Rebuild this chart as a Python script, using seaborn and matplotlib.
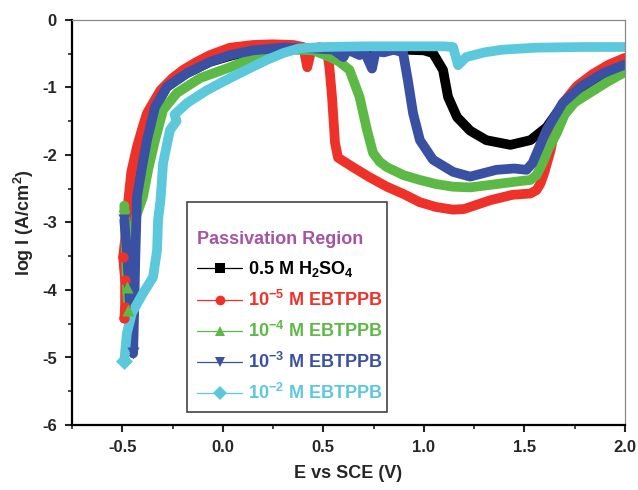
import numpy as np
import pandas as pd
import matplotlib
matplotlib.use("Agg")
import matplotlib.pyplot as plt
from matplotlib.lines import Line2D
from matplotlib.patches import Rectangle
import seaborn as sns

# Potentiodynamic polarization curves: E (V vs SCE) and log I (A/cm^2)
e_h2so4 = [-0.427, -0.40, -0.377, -0.337, -0.278, -0.18, -0.064, 0.05, 0.20, 0.40, 0.70, 0.90,
           1.00, 1.045, 1.095, 1.12, 1.165, 1.23, 1.31, 1.43, 1.53, 1.61, 1.66, 1.72, 1.80, 1.90, 2.00]
i_h2so4 = [-2.62, -2.15, -1.78, -1.29, -0.99, -0.79, -0.62, -0.52, -0.45, -0.42, -0.43, -0.44,
           -0.45, -0.49, -0.74, -1.14, -1.44, -1.64, -1.78, -1.85, -1.78, -1.59, -1.38, -1.15, -0.98, -0.80, -0.66]

e_1e5 = [-0.49, -0.486, -0.486, -0.496, -0.48, -0.47, -0.455, -0.427, -0.40, -0.377, -0.31, -0.25, -0.198,
         -0.13, -0.064, 0.036, 0.15, 0.25, 0.35, 0.40, 0.42, 0.44, 0.48, 0.518, 0.53, 0.543, 0.558, 0.573,
         0.647, 0.73, 0.816, 0.90, 0.98, 1.06, 1.145, 1.20, 1.26, 1.33, 1.44, 1.53, 1.56, 1.58, 1.60, 1.63,
         1.66, 1.70, 1.76, 1.84, 1.92, 2.00]
i_1e5 = [-4.42, -4.25, -3.85, -3.51, -3.1, -2.67, -2.25, -1.88, -1.6, -1.38, -1.04, -0.86, -0.74,
         -0.62, -0.52, -0.41, -0.37, -0.36, -0.37, -0.40, -0.70, -0.45, -0.40, -0.45, -0.70, -1.14, -1.82, -2.04,
         -2.18, -2.33, -2.47, -2.58, -2.70, -2.77, -2.81, -2.80, -2.74, -2.67, -2.59, -2.57, -2.52, -2.42, -2.25, -1.93,
         -1.50, -1.20, -0.98, -0.80, -0.66, -0.56]

e_1e4 = [-0.49, -0.482, -0.477, -0.47, -0.462, -0.45, -0.43, -0.397, -0.37, -0.337, -0.297, -0.228, -0.113,
         0.036, 0.135, 0.25, 0.35, 0.45, 0.533, 0.58, 0.63, 0.68, 0.717, 0.747, 0.78, 0.816, 0.90, 0.98,
         1.06, 1.145, 1.23, 1.31, 1.39, 1.47, 1.53, 1.56, 1.59, 1.62, 1.66, 1.70, 1.75, 1.83, 1.91, 2.00]
i_1e4 = [-2.75, -3.4, -3.95, -4.3, -3.7, -3.2, -2.9, -2.62, -2.2, -1.78, -1.33, -1.08, -0.86,
         -0.70, -0.58, -0.48, -0.44, -0.45, -0.55, -0.62, -0.74, -1.14, -1.63, -1.97, -2.10, -2.18, -2.30, -2.37,
         -2.43, -2.47, -2.48, -2.45, -2.42, -2.39, -2.37, -2.30, -2.12, -1.90, -1.68, -1.40, -1.22, -1.07, -0.92, -0.77]

e_1e3 = [-0.49, -0.475, -0.462, -0.446, -0.44, -0.435, -0.43, -0.427, -0.40, -0.377, -0.337, -0.278, -0.18,
         -0.064, 0.036, 0.15, 0.30, 0.45, 0.55, 0.60, 0.62, 0.68, 0.70, 0.742, 0.76, 0.80, 0.85, 0.896,
         0.92, 0.946, 0.98, 1.045, 1.145, 1.23, 1.36, 1.45, 1.51, 1.54, 1.61, 1.69, 1.78, 1.89, 2.00]
i_1e3 = [-2.97, -3.5, -4.2, -4.94, -4.2, -3.5, -2.97, -2.62, -2.15, -1.78, -1.29, -0.99, -0.79,
         -0.62, -0.52, -0.45, -0.41, -0.42, -0.44, -0.55, -0.44, -0.52, -0.44, -0.72, -0.46, -0.48, -0.44, -0.48,
         -0.89, -1.38, -1.78, -2.07, -2.25, -2.32, -2.22, -2.20, -2.22, -2.12, -1.63, -1.23, -0.99, -0.79, -0.66]

e_1e2 = [-0.49, -0.477, -0.452, -0.397, -0.347, -0.327, -0.322, -0.31, -0.297, -0.263, -0.23, -0.24,
         -0.178, -0.079, 0.036, 0.13, 0.22, 0.30, 0.38, 0.50, 0.70, 0.90, 1.10, 1.145, 1.17, 1.21, 1.30,
         1.39, 1.56, 1.80, 2.00]
i_1e2 = [-5.05, -4.64, -4.34, -4.05, -3.81, -3.41, -2.96, -2.67, -2.12, -1.63, -1.50, -1.40,
         -1.23, -1.04, -0.86, -0.72, -0.59, -0.49, -0.42, -0.40, -0.39, -0.39, -0.39, -0.40, -0.67, -0.55, -0.48,
         -0.44, -0.41, -0.40, -0.40]

labels = [r"0.5 M H$_2$SO$_4$", r"10$^{-5}$ M EBTPPB", r"10$^{-4}$ M EBTPPB",
          r"10$^{-3}$ M EBTPPB", r"10$^{-2}$ M EBTPPB"]
colors = ["#000000", "#EE3129", "#5DB946", "#3A51A3", "#5BC8DC"]
markers = ["s", "o", "^", "v", "D"]
x_ticks = [-0.5, 0.0, 0.5, 1.0, 1.5, 2.0]
x_ticklabels = ["-0.5", "0.0", "0.5", "1.0", "1.5", "2.0"]
y_ticks = [0, -1, -2, -3, -4, -5, -6]
y_ticklabels = ["0", "-1", "-2", "-3", "-4", "-5", "-6"]

series = [(e_h2so4, i_h2so4), (e_1e5, i_1e5), (e_1e4, i_1e4), (e_1e3, i_1e3), (e_1e2, i_1e2)]
frames = []
for lab, (e, i) in zip(labels, series):
    frames.append(pd.DataFrame({"E": e, "logI": i, "sample": lab, "idx": np.arange(len(e))}))
df = pd.concat(frames, ignore_index=True)

sns.set_theme(style="ticks")
plt.rcParams["font.family"] = ["Liberation Sans", "DejaVu Sans"]
plt.rcParams["font.weight"] = "bold"
plt.rcParams["axes.unicode_minus"] = False
plt.rcParams["mathtext.fontset"] = "custom"
plt.rcParams["mathtext.rm"] = "Liberation Sans:bold"
plt.rcParams["mathtext.bf"] = "Liberation Sans:bold"
plt.rcParams["mathtext.it"] = "Liberation Sans:bold"
plt.rcParams["mathtext.default"] = "bf"

fig = plt.figure(figsize=(6.38, 4.90), dpi=100)
ax = fig.add_axes([72 / 638, 1 - 425 / 490, 553 / 638, 405 / 490])

sns.lineplot(data=df, x="E", y="logI", hue="sample", palette=dict(zip(labels, colors)),
             sort=False, estimator=None, units="sample", linewidth=7.0, legend=False, ax=ax,
             solid_capstyle="round", solid_joinstyle="round")

# markers at the cathodic start of each scan
marked = {labels[0]: [], labels[1]: [0, 1, 2, 3], labels[2]: [0, 2, 3],
          labels[3]: [0, 3], labels[4]: [0]}
for lab, col, mk in zip(labels, colors, markers):
    sub = df[(df["sample"] == lab) & (df["idx"].isin(marked[lab]))]
    if len(sub):
        sns.scatterplot(data=sub, x="E", y="logI", color=col, marker=mk, s=75 if mk != "o" else 55,
                        linewidth=0, ax=ax, zorder=5, legend=False)

ax.set_xlim(-0.75, 2.0)
ax.set_ylim(-6, 0)
ax.set_xticks(x_ticks, x_ticklabels)
ax.set_yticks(y_ticks, y_ticklabels)
ax.set_xticks([-0.75, -0.25, 0.25, 0.75, 1.25, 1.75], minor=True)
ax.set_yticks([-0.5, -1.5, -2.5, -3.5, -4.5, -5.5], minor=True)
ax.tick_params(which="major", direction="out", length=5, width=1.5, labelsize=12, pad=6)
ax.tick_params(which="minor", direction="out", length=3, width=1.2)
for t in ax.get_xticklabels() + ax.get_yticklabels():
    t.set_fontweight("bold")

for s in ["left", "bottom"]:
    ax.spines[s].set_linewidth(1.6)
    ax.spines[s].set_color("black")
for s in ["top", "right"]:
    ax.spines[s].set_linewidth(0.9)
    ax.spines[s].set_color("#8a8a8a")

ax.set_xlabel("E vs SCE (V)", fontsize=13, fontweight="bold", labelpad=7)
ax.set_ylabel(r"log I (A/cm$^2$)", fontsize=13, fontweight="bold", labelpad=4)

# legend box
box_l, box_r = (187 - 72) / 553, (387 - 72) / 553
box_b, box_t = (425 - 412) / 405, (425 - 202) / 405
ax.add_patch(Rectangle((box_l, box_b), box_r - box_l, box_t - box_b, transform=ax.transAxes,
                       facecolor="white", edgecolor="#444444", linewidth=1.2, zorder=6))

handles = [Line2D([0], [0], color=c, lw=0.9, marker=m, markersize=7, markeredgewidth=0)
           for c, m in zip(colors, markers)]
leg = ax.legend(handles, labels, loc="upper left", bbox_to_anchor=(box_l + 0.005, box_t - 0.055),
                frameon=False, fontsize=13, handlelength=2.5, handletextpad=0.3,
                labelspacing=0.6, borderaxespad=0, title="Passivation Region",
                title_fontproperties={"weight": "bold", "size": 13})
leg.set_zorder(7)
leg._legend_box.align = "left"
leg.get_title().set_color("#A553A8")
for txt, c in zip(leg.get_texts(), colors):
    txt.set_color(c)
    txt.set_fontweight("bold")

fig.savefig("out.png", dpi=100)
